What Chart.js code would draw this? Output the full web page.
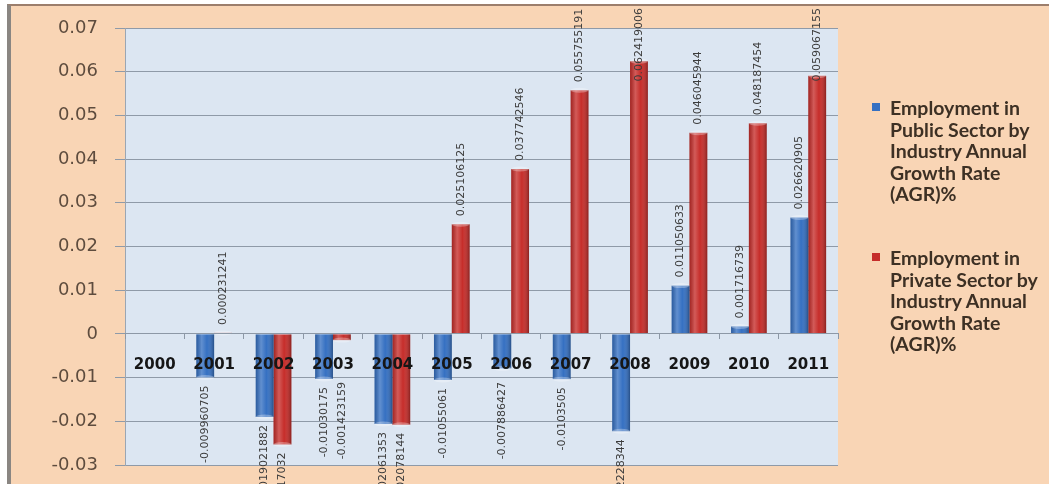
<!DOCTYPE html>
<html>
<head>
<meta charset="utf-8">
<script src="https://cdn.jsdelivr.net/npm/chart.js@4.4.0/dist/chart.umd.min.js"></script>
<style>
  html, body { margin: 0; padding: 0; background: #fff; }
  body { width: 1049px; height: 484px; position: relative; overflow: hidden; }
  #title { position: absolute; left: 0; top: 0; width: 1049px; height: 4px; overflow: hidden; }
  #title span { position: absolute; left: 63px; top: -29px; font: bold 28px "Liberation Serif", serif; line-height: 28px; white-space: nowrap; color: #000; }
  #frame { position: absolute; left: 7px; top: 4px; right: 0; bottom: 0; background: #f9d5b5;
           border-left: 4px solid #8a8682; border-top: 2px solid #9c7e6c; }
  #chart { position: absolute; left: 0; top: 0; }
  .leg { position: absolute; left: 872px; font: bold 19.5px Lato, sans-serif; line-height: 21.5px; color: #3d3024; }
  .leg .mk { position: absolute; left: 0; top: 6px; width: 8px; height: 8px; }
  .leg .txt { position: absolute; left: 18px; top: 0; white-space: nowrap; }
</style>
</head>
<body>
<div id="title"><span>Employment in Public and Private Sector by Industry Annual Growth Rate (AGR)%</span></div>
<div id="frame"></div>
<canvas id="chart" width="1049" height="484"></canvas>
<div id="legend"></div>
<script>
// categories
const years = ['2000', '2001', '2002', '2003', '2004', '2005', '2006', '2007', '2008', '2009', '2010', '2011'];

// annual growth rates (2000 has no value)
const publicAGR = [null, -0.009960705, -0.019021882, -0.01030175, -0.02061353, -0.01055061,
                   -0.007886427, -0.0103505, -0.02228344, 0.011050633, 0.001716739, 0.026620905];
const privateAGR = [null, 0.000231241, -0.025317032, -0.001423159, -0.02078144, 0.025106125,
                    0.037742546, 0.055755191, 0.062419006, 0.046045944, 0.048187454, 0.059067155];

const yTicks = [-0.03, -0.02, -0.01, 0, 0.01, 0.02, 0.03, 0.04, 0.05, 0.06, 0.07];

// legend text, one entry per line as in the picture
const publicName = ['Employment in', 'Public Sector by', 'Industry Annual', 'Growth Rate', '(AGR)%'];
const privateName = ['Employment in', 'Private Sector by', 'Industry Annual', 'Growth Rate', '(AGR)%'];

const blue = '#3570c2';
const red = '#c62d2a';

// light blue plot area
const plotBg = {
    id: 'plotBg',
    beforeDraw(chart) {
        const { ctx, chartArea: a } = chart;
        ctx.save();
        ctx.fillStyle = '#dce6f2';
        ctx.fillRect(a.left, a.top, a.right - a.left, a.bottom - a.top);
        ctx.restore();
    }
};

// cylinder-like shading on each bar
const barShade = {
    id: 'barShade',
    afterDatasetsDraw(chart) {
        const ctx = chart.ctx;
        chart.data.datasets.forEach((ds, di) => {
            chart.getDatasetMeta(di).data.forEach((bar, i) => {
                if (ds.data[i] == null) return;
                const { x, y, base, width } = bar.getProps(['x', 'y', 'base', 'width'], true);
                const left = x - width / 2;
                const g = ctx.createLinearGradient(left, 0, left + width, 0);
                g.addColorStop(0, 'rgba(0,0,0,0.18)');
                g.addColorStop(0.3, 'rgba(255,255,255,0.22)');
                g.addColorStop(0.6, 'rgba(255,255,255,0)');
                g.addColorStop(1, 'rgba(0,0,0,0.3)');
                ctx.save();
                ctx.fillStyle = g;
                ctx.fillRect(left, Math.min(y, base), width, Math.abs(base - y));
                ctx.fillStyle = 'rgba(255,255,255,0.3)';
                ctx.beginPath();
                ctx.ellipse(x, y, width / 2, 2.5, 0, 0, Math.PI * 2);
                ctx.fill();
                ctx.restore();
            });
        });
    }
};

// rotated value labels at the end of each bar
const valueLabels = {
    id: 'valueLabels',
    afterDatasetsDraw(chart) {
        const ctx = chart.ctx;
        const zero = chart.scales.y.getPixelForValue(0);
        ctx.save();
        ctx.font = '11px "DejaVu Sans", sans-serif';
        ctx.fillStyle = '#3c3c3c';
        ctx.textBaseline = 'middle';
        chart.data.datasets.forEach((ds, di) => {
            chart.getDatasetMeta(di).data.forEach((bar, i) => {
                const v = ds.data[i];
                if (v == null) return;
                const text = String(v);
                const w = ctx.measureText(text).width;
                let pos;
                ctx.save();
                if (v >= 0) {
                    pos = bar.y - 8;
                    if (pos - w < 8) pos = 8 + w;
                    ctx.translate(bar.x, pos);
                    ctx.rotate(-Math.PI / 2);
                    ctx.textAlign = 'left';
                } else {
                    pos = Math.max(bar.y, zero + 40) + 8;
                    ctx.translate(bar.x, pos);
                    ctx.rotate(-Math.PI / 2);
                    ctx.textAlign = 'right';
                }
                ctx.fillText(text, 0, 0);
                ctx.restore();
            });
        });
        ctx.restore();
    }
};

const ctx = document.getElementById('chart').getContext('2d');
const agrChart = new Chart(ctx, {
    type: 'bar',
    data: {
        labels: years,
        datasets: [
            { label: publicName.join(' '), data: publicAGR, backgroundColor: blue },
            { label: privateName.join(' '), data: privateAGR, backgroundColor: red }
        ]
    },
    options: {
        responsive: false,
        animation: false,
        layout: { padding: { left: 0, top: 28, right: 211, bottom: 19 } },
        datasets: { bar: { categoryPercentage: 0.6, barPercentage: 1.0 } },
        plugins: {
            legend: { display: false },
            tooltip: { enabled: false }
        },
        scales: {
            x: {
                position: { y: 0 },
                afterFit(scale) { scale.height = 0; },
                grid: { drawOnChartArea: false, drawTicks: true, tickLength: 5, color: '#8d98a6', z: 1 },
                border: { color: '#8d98a6', z: 1 },
                ticks: {
                    z: 1,
                    autoSkip: false,
                    maxRotation: 0,
                    padding: 17,
                    color: '#161616',
                    font: { family: 'DejaVu Sans', weight: 'bold', size: 15 }
                }
            },
            y: {
                min: -0.03,
                max: 0.07,
                afterFit(scale) {
                    scale.width = 125;
                    scale.paddingTop = 0;
                    scale.paddingBottom = 0;
                },
                afterBuildTicks(scale) { scale.ticks = yTicks.map(v => ({ value: v })); },
                grid: { color: '#8f9aa8', tickLength: 10 },
                border: { color: '#9aa6b4' },
                ticks: {
                    padding: 17,
                    color: '#5e4c3e',
                    font: { family: 'DejaVu Sans', size: 18 },
                    callback: v => String(Number(v.toFixed(2)))
                }
            }
        }
    },
    plugins: [plotBg, barShade, valueLabels]
});

// legend drawn from the dataset names and colours
const legend = document.getElementById('legend');
[[publicName, blue, 97], [privateName, red, 247]].forEach(([lines, color, top]) => {
    const item = document.createElement('div');
    item.className = 'leg';
    item.style.top = top + 'px';
    item.innerHTML = '<div class="mk" style="background:' + color + '"></div><div class="txt">' + lines.join('<br>') + '</div>';
    legend.appendChild(item);
});
</script>
</body>
</html>
